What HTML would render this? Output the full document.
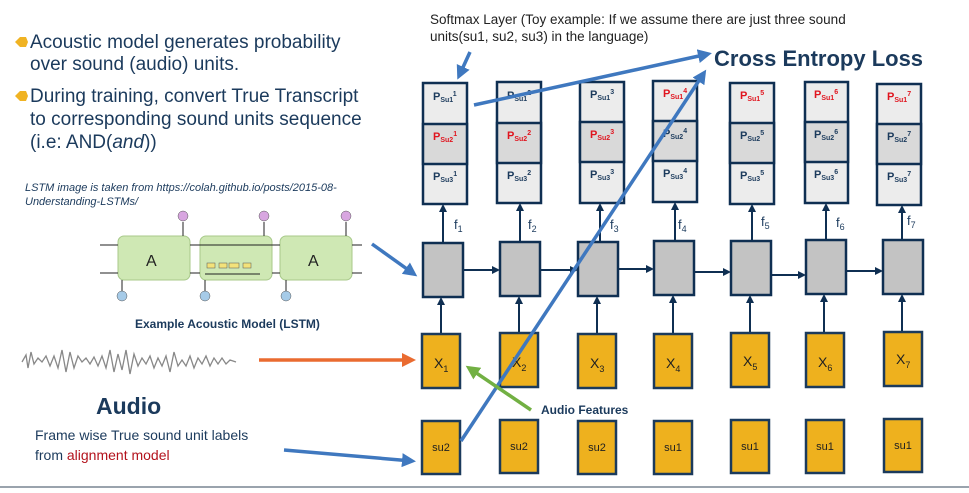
<!DOCTYPE html>
<html><head><meta charset="utf-8"><style>
body{margin:0;background:#fff;width:969px;height:488px;overflow:hidden;font-family:"Liberation Sans",sans-serif}
</style></head><body>
<svg width="969" height="488" viewBox="0 0 969 488" xmlns="http://www.w3.org/2000/svg" font-family="Liberation Sans, sans-serif">
<defs>
<marker id="ad" markerWidth="8" markerHeight="8" refX="6" refY="4" orient="auto" markerUnits="userSpaceOnUse"><path d="M0,0 L8,4 L0,8z" fill="#0f2f52"/></marker>
<marker id="ab" markerWidth="14" markerHeight="14" refX="10" refY="7" orient="auto" markerUnits="userSpaceOnUse"><path d="M0,0 L14,7 L0,14z" fill="#3f78bf"/></marker>
<marker id="ao" markerWidth="14" markerHeight="14" refX="10" refY="7" orient="auto" markerUnits="userSpaceOnUse"><path d="M0,0 L14,7 L0,14z" fill="#ea6b30"/></marker>
<marker id="ag" markerWidth="14" markerHeight="14" refX="10" refY="7" orient="auto" markerUnits="userSpaceOnUse"><path d="M0,0 L14,7 L0,14z" fill="#72b043"/></marker>
</defs>
<g fill="#1b3a5c" font-size="19">
<polygon points="15,42 20,37 26,37 28,42 26,47 20,47" fill="#f0b323"/>
<text x="30" y="48">Acoustic model generates probability</text>
<text x="30" y="70">over sound (audio) units.</text>
<polygon points="15,96 20,91 26,91 28,96 26,101 20,101" fill="#f0b323"/>
<text x="30" y="102">During training, convert True Transcript</text>
<text x="30" y="125">to corresponding sound units sequence</text>
<text x="30" y="148">(i.e: AND(<tspan font-style="italic">and</tspan>))</text>
</g>
<g fill="#1b3a5c" font-size="11" font-style="italic">
<text x="25" y="191">LSTM image is taken from https://colah.github.io/posts/2015-08-</text>
<text x="25" y="205">Understanding-LSTMs/</text>
</g>
<g>
<rect x="118" y="236" width="72" height="44" rx="6" fill="#cfe8b4" stroke="#a8c98a"/>
<rect x="200" y="236" width="72" height="44" rx="6" fill="#cfe8b4" stroke="#a8c98a"/>
<rect x="280" y="236" width="72" height="44" rx="6" fill="#cfe8b4" stroke="#a8c98a"/>
<text x="146" y="266" font-size="16" fill="#222">A</text>
<text x="308" y="266" font-size="16" fill="#222">A</text>
<g stroke="#222" stroke-width="1" fill="none">
<line x1="100" y1="245" x2="118" y2="245"/><line x1="100" y1="273" x2="118" y2="273"/>
<line x1="190" y1="245" x2="200" y2="245"/><line x1="190" y1="273" x2="200" y2="273"/>
<line x1="272" y1="245" x2="280" y2="245"/><line x1="272" y1="273" x2="280" y2="273"/>
<line x1="352" y1="245" x2="362" y2="245"/><line x1="352" y1="273" x2="362" y2="273"/>
<line x1="183" y1="236" x2="183" y2="222"/><line x1="264" y1="236" x2="264" y2="222"/><line x1="346" y1="236" x2="346" y2="222"/>
<line x1="200" y1="245" x2="272" y2="245"/><line x1="205" y1="274" x2="260" y2="274"/>
<line x1="122" y1="280" x2="122" y2="292"/><line x1="205" y1="280" x2="205" y2="292"/><line x1="286" y1="280" x2="286" y2="292"/>
</g>
<g fill="#f3e27a" stroke="#555" stroke-width=".5"><rect x="207" y="263" width="8" height="5"/><rect x="219" y="263" width="8" height="5"/><rect x="229" y="263" width="10" height="5"/><rect x="243" y="263" width="8" height="5"/></g>
<g fill="#d8a6e0" stroke="#555" stroke-width=".5"><circle cx="183" cy="216" r="5"/><circle cx="264" cy="216" r="5"/><circle cx="346" cy="216" r="5"/></g>
<g fill="#a6cbe8" stroke="#555" stroke-width=".5"><circle cx="122" cy="296" r="5"/><circle cx="205" cy="296" r="5"/><circle cx="286" cy="296" r="5"/></g>
</g>
<text x="135" y="328" font-size="12" font-weight="bold" fill="#1b3a5c">Example Acoustic Model (LSTM)</text>
<polyline fill="none" stroke="#888" stroke-width="1.3" points="22,362 26,355 28,368 31,352 34,364 38,358 42,362 46,356 50,366 54,356 58,368 62,350 66,372 70,352 74,368 78,356 82,362 86,358 90,364 94,357 98,366 102,356 106,368 110,350 114,372 118,354 122,370 126,350 130,374 134,354 138,366 142,358 146,364 150,356 154,368 158,358 162,366 166,356 170,372 174,352 178,366 182,360 186,366 190,356 194,368 198,358 202,364 206,356 210,366 214,358 218,364 222,358 226,364 230,360 236,362"/>
<text x="96" y="414" font-size="23" font-weight="bold" fill="#1b3a5c">Audio</text>
<text x="35" y="440" font-size="14" fill="#1b3a5c">Frame wise True sound unit labels</text>
<text x="35" y="460" font-size="14" fill="#1b3a5c">from <tspan fill="#b3121c">alignment model</tspan></text>
<text x="430" y="24" font-size="13.5" fill="#222">Softmax Layer (Toy example: If we assume there are just three sound</text>
<text x="430" y="41" font-size="13.5" fill="#222">units(su1, su2, su3) in the language)</text>
<text x="714" y="66" font-size="22" font-weight="bold" fill="#1b3a5c">Cross Entropy Loss</text>
<g font-size="11" font-weight="bold">
<g stroke="#0f2f52" stroke-width="2.5">
<rect x="423" y="83" width="44" height="121" fill="#ececec"/><rect x="423" y="124" width="44" height="40" fill="#d9d9d9"/>
<rect x="497" y="82" width="44" height="121" fill="#ececec"/><rect x="497" y="123" width="44" height="40" fill="#d9d9d9"/>
<rect x="580" y="82" width="44" height="121" fill="#ececec"/><rect x="580" y="122" width="44" height="40" fill="#d9d9d9"/>
<rect x="653" y="81" width="44" height="121" fill="#ececec"/><rect x="653" y="121" width="44" height="40" fill="#d9d9d9"/>
<rect x="730" y="83" width="44" height="121" fill="#ececec"/><rect x="730" y="123" width="44" height="40" fill="#d9d9d9"/>
<rect x="805" y="82" width="43" height="121" fill="#ececec"/><rect x="805" y="122" width="43" height="40" fill="#d9d9d9"/>
<rect x="877" y="84" width="44" height="121" fill="#ececec"/><rect x="877" y="124" width="44" height="40" fill="#d9d9d9"/>
</g>
<g fill="#1b3a5c">
<text x="433" y="100">P<tspan font-size="7" dy="2">Su1</tspan><tspan font-size="7" dy="-6">1</tspan></text>
<text x="433" y="140" fill="#e0141e">P<tspan font-size="7" dy="2">Su2</tspan><tspan font-size="7" dy="-6">1</tspan></text>
<text x="433" y="180">P<tspan font-size="7" dy="2">Su3</tspan><tspan font-size="7" dy="-6">1</tspan></text>
<text x="507" y="99">P<tspan font-size="7" dy="2">Su1</tspan><tspan font-size="7" dy="-6">2</tspan></text>
<text x="507" y="139" fill="#e0141e">P<tspan font-size="7" dy="2">Su2</tspan><tspan font-size="7" dy="-6">2</tspan></text>
<text x="507" y="179">P<tspan font-size="7" dy="2">Su3</tspan><tspan font-size="7" dy="-6">2</tspan></text>
<text x="590" y="98">P<tspan font-size="7" dy="2">Su1</tspan><tspan font-size="7" dy="-6">3</tspan></text>
<text x="590" y="138" fill="#e0141e">P<tspan font-size="7" dy="2">Su2</tspan><tspan font-size="7" dy="-6">3</tspan></text>
<text x="590" y="178">P<tspan font-size="7" dy="2">Su3</tspan><tspan font-size="7" dy="-6">3</tspan></text>
<text x="663" y="97" fill="#e0141e">P<tspan font-size="7" dy="2">Su1</tspan><tspan font-size="7" dy="-6">4</tspan></text>
<text x="663" y="137">P<tspan font-size="7" dy="2">Su2</tspan><tspan font-size="7" dy="-6">4</tspan></text>
<text x="663" y="177">P<tspan font-size="7" dy="2">Su3</tspan><tspan font-size="7" dy="-6">4</tspan></text>
<text x="740" y="99" fill="#e0141e">P<tspan font-size="7" dy="2">Su1</tspan><tspan font-size="7" dy="-6">5</tspan></text>
<text x="740" y="139">P<tspan font-size="7" dy="2">Su2</tspan><tspan font-size="7" dy="-6">5</tspan></text>
<text x="740" y="179">P<tspan font-size="7" dy="2">Su3</tspan><tspan font-size="7" dy="-6">5</tspan></text>
<text x="814" y="98" fill="#e0141e">P<tspan font-size="7" dy="2">Su1</tspan><tspan font-size="7" dy="-6">6</tspan></text>
<text x="814" y="138">P<tspan font-size="7" dy="2">Su2</tspan><tspan font-size="7" dy="-6">6</tspan></text>
<text x="814" y="178">P<tspan font-size="7" dy="2">Su3</tspan><tspan font-size="7" dy="-6">6</tspan></text>
<text x="887" y="100" fill="#e0141e">P<tspan font-size="7" dy="2">Su1</tspan><tspan font-size="7" dy="-6">7</tspan></text>
<text x="887" y="140">P<tspan font-size="7" dy="2">Su2</tspan><tspan font-size="7" dy="-6">7</tspan></text>
<text x="887" y="180">P<tspan font-size="7" dy="2">Su3</tspan><tspan font-size="7" dy="-6">7</tspan></text>
</g>
</g>
<g fill="#c3c3c3" stroke="#0f2f52" stroke-width="2.5">
<rect x="423" y="243" width="40" height="54"/><rect x="500" y="242" width="40" height="54"/>
<rect x="578" y="242" width="40" height="54"/><rect x="654" y="241" width="40" height="54"/>
<rect x="731" y="241" width="40" height="54"/><rect x="806" y="240" width="40" height="54"/>
<rect x="883" y="240" width="40" height="54"/>
</g>
<g stroke="#0f2f52" stroke-width="2" marker-end="url(#ad)">
<line x1="443" y1="243" x2="443" y2="206"/><line x1="520" y1="242" x2="520" y2="205"/>
<line x1="600" y1="242" x2="600" y2="205"/><line x1="675" y1="241" x2="675" y2="204"/>
<line x1="752" y1="241" x2="752" y2="206"/><line x1="826" y1="240" x2="826" y2="205"/>
<line x1="902" y1="240" x2="902" y2="207"/>
<line x1="463" y1="270" x2="498" y2="270"/><line x1="540" y1="270" x2="576" y2="270"/>
<line x1="618" y1="269" x2="652" y2="269"/><line x1="694" y1="272" x2="729" y2="272"/>
<line x1="771" y1="275" x2="804" y2="275"/><line x1="846" y1="271" x2="881" y2="271"/>
<line x1="441" y1="333" x2="441" y2="299"/><line x1="519" y1="333" x2="519" y2="298"/>
<line x1="597" y1="333" x2="597" y2="298"/><line x1="673" y1="333" x2="673" y2="297"/>
<line x1="750" y1="333" x2="750" y2="297"/><line x1="824" y1="333" x2="824" y2="296"/>
<line x1="902" y1="332" x2="902" y2="296"/>
</g>
<g font-size="13" fill="#1b3a5c">
<text x="454" y="229">f<tspan font-size="9" dy="3">1</tspan></text>
<text x="528" y="229">f<tspan font-size="9" dy="3">2</tspan></text>
<text x="610" y="229">f<tspan font-size="9" dy="3">3</tspan></text>
<text x="678" y="229">f<tspan font-size="9" dy="3">4</tspan></text>
<text x="761" y="226">f<tspan font-size="9" dy="3">5</tspan></text>
<text x="836" y="227">f<tspan font-size="9" dy="3">6</tspan></text>
<text x="907" y="225">f<tspan font-size="9" dy="3">7</tspan></text>
</g>
<g fill="#eeb11e" stroke="#1b3a5c" stroke-width="2.5">
<rect x="422" y="334" width="38" height="54"/><rect x="500" y="333" width="38" height="54"/>
<rect x="578" y="334" width="38" height="54"/><rect x="654" y="334" width="38" height="54"/>
<rect x="731" y="333" width="38" height="54"/><rect x="806" y="333" width="38" height="54"/>
<rect x="884" y="332" width="38" height="54"/>
<rect x="422" y="421" width="38" height="53"/><rect x="500" y="420" width="38" height="53"/>
<rect x="578" y="421" width="38" height="53"/><rect x="654" y="421" width="38" height="53"/>
<rect x="731" y="420" width="38" height="53"/><rect x="806" y="420" width="38" height="53"/>
<rect x="884" y="419" width="38" height="53"/>
</g>
<g font-size="14" fill="#222">
<text x="434" y="368">X<tspan font-size="9" dy="4">1</tspan></text>
<text x="512" y="367">X<tspan font-size="9" dy="4">2</tspan></text>
<text x="590" y="368">X<tspan font-size="9" dy="4">3</tspan></text>
<text x="666" y="368">X<tspan font-size="9" dy="4">4</tspan></text>
<text x="743" y="366">X<tspan font-size="9" dy="4">5</tspan></text>
<text x="818" y="367">X<tspan font-size="9" dy="4">6</tspan></text>
<text x="896" y="364">X<tspan font-size="9" dy="4">7</tspan></text>
</g>
<g font-size="11" fill="#222" text-anchor="middle">
<text x="441" y="451">su2</text><text x="519" y="450">su2</text><text x="597" y="451">su2</text>
<text x="673" y="451">su1</text><text x="750" y="450">su1</text><text x="825" y="450">su1</text><text x="903" y="449">su1</text>
</g>
<text x="541" y="414" font-size="12" font-weight="bold" fill="#1b3a5c">Audio Features</text>
<g stroke-width="3.5">
<line x1="470" y1="52" x2="459" y2="76" stroke="#3f78bf" marker-end="url(#ab)"/>
<line x1="474" y1="105" x2="708" y2="54" stroke="#3f78bf" marker-end="url(#ab)"/>
<line x1="461" y1="441" x2="704" y2="73" stroke="#3f78bf" marker-end="url(#ab)"/>
<line x1="372" y1="244" x2="414" y2="274" stroke="#3f78bf" marker-end="url(#ab)"/>
<line x1="284" y1="450" x2="412" y2="461" stroke="#3f78bf" marker-end="url(#ab)"/>
<line x1="259" y1="360" x2="412" y2="360" stroke="#ea6b30" marker-end="url(#ao)"/>
<line x1="531" y1="410" x2="469" y2="368" stroke="#72b043" marker-end="url(#ag)"/>
</g>
<line x1="0" y1="487" x2="969" y2="487" stroke="#9aa3ad" stroke-width="2"/>
</svg>
</body></html>
